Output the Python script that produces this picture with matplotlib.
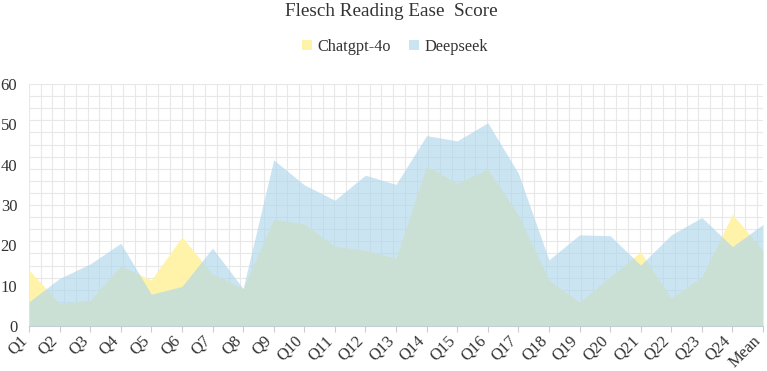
import matplotlib
matplotlib.use("Agg")
import matplotlib.pyplot as plt
import matplotlib.transforms as mtransforms
import numpy as np

categories = [f"Q{i}" for i in range(1, 25)] + ["Mean"]
chatgpt = [13.9, 5.6, 6.4, 14.9, 11.4, 22.1, 12.9, 9.3, 26.5, 25.3, 19.8, 18.8, 16.8,
           39.7, 35.4, 38.9, 27.6, 11.4, 5.9, 12.2, 18.4, 6.9, 12.2, 27.7, 18.8]
deepseek = [6.0, 11.8, 15.4, 20.5, 7.9, 9.8, 19.3, 9.3, 41.2, 35.0, 31.2, 37.4, 35.1,
            47.2, 45.9, 50.4, 37.9, 16.4, 22.6, 22.4, 15.1, 22.6, 26.9, 19.7, 25.2]
yticks = [0, 10, 20, 30, 40, 50, 60]

plt.rcParams['font.family'] = ['Liberation Serif', 'DejaVu Serif']

fig = plt.figure(figsize=(7.67, 3.71), dpi=100)
ax = fig.add_axes([29/767, 1-326/371, (763-29)/767, (326-84)/371])

x = np.arange(len(categories))
yellow = (255/255, 243/255, 170/255)
blue = (175/255, 214/255, 236/255)

# background grid
for gx in np.arange(0, len(categories) - 1 + 0.01, 0.384):
    ax.axvline(gx, color='#e8e8e8', lw=0.8, zorder=0)
for gy in np.arange(0, 60.01, 3):
    ax.axhline(gy, color='#e8e8e8', lw=0.8, zorder=0)

ax.fill_between(x, 0, chatgpt, color=yellow, lw=0, zorder=2, label='Chatgpt-4o')
ax.fill_between(x, 0, deepseek, color=blue, alpha=0.64, lw=0, zorder=3, label='Deepseek')

ax.set_xlim(0, len(categories) - 1)
ax.set_ylim(0, 60)
ax.set_yticks(yticks)
ax.set_yticklabels([str(v) for v in yticks], fontsize=12, color='#333333')
ax.tick_params(axis='y', length=0, pad=8.5)
ax.set_xticks(x)
ax.set_xticklabels(categories, fontsize=12, color='#333333', rotation=45,
                   ha='right', va='center', rotation_mode='anchor')
ax.tick_params(axis='x', length=4, color='#cccccc', pad=5)
offset = mtransforms.ScaledTranslation(-3/72, 0, fig.dpi_scale_trans)
for lbl in ax.get_xticklabels():
    lbl.set_transform(lbl.get_transform() + offset)
for s in ['top', 'right', 'left']:
    ax.spines[s].set_visible(False)
ax.spines['bottom'].set_color('#cccccc')
ax.spines['bottom'].set_linewidth(0.8)

fig.text(0.51, 1-12/371, "Flesch Reading Ease  Score", ha='center', va='center',
         fontsize=13.8, color='#333333')
handles, labels = ax.get_legend_handles_labels()
fig.legend(handles, labels, loc='center', bbox_to_anchor=(0.515, 1-47/371), ncol=2,
           frameon=False, fontsize=11.7, handlelength=0.6, handleheight=0.6,
           handletextpad=0.35, columnspacing=1.1, labelcolor='#333333')

fig.savefig("out.png", dpi=100)
